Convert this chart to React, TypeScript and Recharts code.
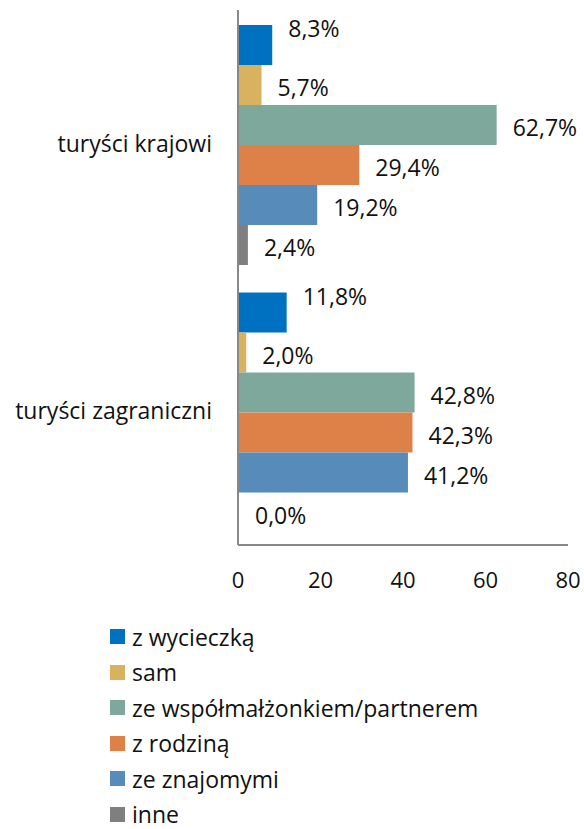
import { BarChart, Bar, XAxis, YAxis, Legend, LabelList } from "recharts"

const categories = ["turyści krajowi", "turyści zagraniczni"]
const seriesNames = [
  "z wycieczką",
  "sam",
  "ze współmałżonkiem/partnerem",
  "z rodziną",
  "ze znajomymi",
  "inne",
]
const wycieczka = [8.3, 11.8]
const sam = [5.7, 2.0]
const partner = [62.7, 42.8]
const rodzina = [29.4, 42.3]
const znajomi = [19.2, 41.2]
const inne = [2.4, 0.0]
const xTicks = [0, 20, 40, 60, 80]

const seriesValues = [wycieczka, sam, partner, rodzina, znajomi, inne]
const COLORS = ["#0070C0", "#D8B25E", "#7EA89B", "#DE8149", "#568BBA", "#7F7F7F"]

const data = categories.map((name, i) => {
  const row: Record<string, string | number> = { name }
  seriesNames.forEach((s, j) => {
    row[s] = seriesValues[j][i]
  })
  return row
})

const FONT = "'Open Sans', sans-serif"

const fmt = (v: number) => v.toFixed(1).replace(".", ",") + "%"

const makeLabel = (dy: number) => (props: any) => {
  const { x, y, width, height, value } = props
  return (
    <text
      x={Number(x) + Number(width) + 16}
      y={Number(y) + Number(height) / 2 + dy}
      dominantBaseline="central"
      textAnchor="start"
      fontSize={23}
      fontFamily={FONT}
      fill="#111"
    >
      {fmt(Number(value))}
    </text>
  )
}

// legend keeps the series order instead of the default alphabetical sort
const CustomLegend = () => (
  <ul style={{ listStyle: "none", margin: 0, padding: 0, paddingLeft: 110 }}>
    {seriesNames.map((name, index) => (
      <li
        key={name}
        style={{
          display: "flex",
          alignItems: "center",
          height: 35.5,
          fontSize: 23,
          fontFamily: FONT,
          color: "#111",
        }}
      >
        <span
          style={{
            display: "inline-block",
            width: 15,
            height: 15,
            marginRight: 7,
            backgroundColor: COLORS[index],
          }}
        />
        <span>{name}</span>
      </li>
    ))}
  </ul>
)

export default function App() {
  return (
    <div style={{ position: "absolute", left: 0, top: 0, width: 584, height: 829, background: "#fff" }}>
      <BarChart
        width={584}
        height={829}
        data={data}
        layout="vertical"
        margin={{ top: 10, right: 16, bottom: 244, left: 0 }}
        barCategoryGap={15}
        barGap={0}
      >
        <Legend
          layout="vertical"
          align="center"
          verticalAlign="middle"
          content={<CustomLegend />}
          wrapperStyle={{ left: 0, top: 619, width: 584 }}
        />
        {seriesNames.map((s, j) => (
          <Bar
            key={s}
            dataKey={s}
            fill={COLORS[j]}
            minPointSize={j === 5 ? 1 : 0}
            isAnimationActive={false}
          >
            <LabelList dataKey={s} content={makeLabel(j === 0 ? -17 : 2)} />
          </Bar>
        ))}
        <XAxis
          type="number"
          domain={[0, 80]}
          ticks={xTicks}
          height={40}
          tickLine={false}
          tickSize={6}
          tickMargin={21}
          axisLine={{ stroke: "#888", strokeWidth: 2 }}
          tick={{ fill: "#111", fontSize: 22, fontFamily: FONT }}
        />
        <YAxis
          type="category"
          dataKey="name"
          width={238}
          tickLine={false}
          tickSize={6}
          tickMargin={20}
          axisLine={{ stroke: "#888", strokeWidth: 2 }}
          tick={{ fill: "#111", fontSize: 23, fontFamily: FONT }}
        />
      </BarChart>
    </div>
  )
}
